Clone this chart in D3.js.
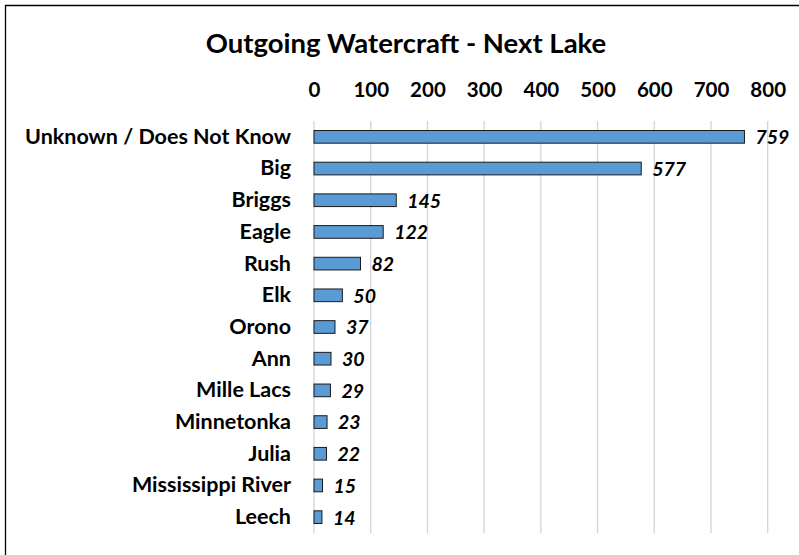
<!DOCTYPE html>
<html><head><meta charset="utf-8">
<script src="https://cdn.jsdelivr.net/npm/d3@7"></script>
<style>
html,body{margin:0;padding:0;background:#fff;overflow:hidden}
text{font-family:Lato,"Open Sans",sans-serif;fill:#000}
</style></head>
<body><svg id="c" width="799" height="555"></svg>
<script>
const categories = ["Unknown / Does Not Know","Big","Briggs","Eagle","Rush","Elk","Orono","Ann","Mille Lacs","Minnetonka","Julia","Mississippi River","Leech"];
const values = [759,577,145,122,82,50,37,30,29,23,22,15,14];
const ticks = [0,100,200,300,400,500,600,700,800];
const title = "Outgoing Watercraft - Next Lake";

const svg = d3.select("#c");
svg.append("path").attr("d","M5.5,560V5.5H810")
  .attr("fill","none").attr("stroke","#000").attr("stroke-width",1.3);

const x = d3.scaleLinear().domain([0,800]).range([314,767.7]);
const y = d3.scaleBand().domain(categories).range([121,533]).paddingInner(0.6).paddingOuter(0.3);

svg.append("text").attr("x",406).attr("y",53).attr("text-anchor","middle")
  .style("font-size","27.5px").style("font-weight","bold").text(title);

// gridlines
svg.append("g").selectAll("line").data(ticks).join("line")
  .attr("x1",d=>x(d)).attr("x2",d=>x(d)).attr("y1",121).attr("y2",533)
  .attr("stroke","#d4d4d4").attr("stroke-width",1.3);

// top axis labels
const ax = svg.append("g").attr("transform","translate(0,97)")
  .call(d3.axisTop(x).tickValues(ticks).tickSize(0).tickPadding(0));
ax.select(".domain").remove();
ax.selectAll("text").style("font-size","20.5px").style("font-weight","bold")
  .attr("font-family",null).attr("dy",0).attr("y",0);

// category labels
const ay = svg.append("g").attr("transform","translate(291,0)")
  .call(d3.axisLeft(y).tickSize(0).tickPadding(0));
ay.select(".domain").remove();
ay.selectAll("text").style("font-size","21.5px").style("font-weight","bold").attr("font-family",null);

// bars
svg.append("g").selectAll("rect").data(values).join("rect")
  .attr("x",x(0)).attr("y",(d,i)=>y(categories[i]))
  .attr("width",d=>x(d)-x(0)).attr("height",y.bandwidth())
  .attr("fill","#5b9bd5").attr("stroke","#1a1a1a").attr("stroke-width",1);

// value labels
svg.append("g").selectAll("text").data(values).join("text")
  .attr("x",d=>x(d)+11).attr("y",(d,i)=>y(categories[i])+y.bandwidth()/2)
  .attr("dy","0.38em")
  .style("font-size","19.5px").style("font-weight","bold").style("font-style","italic")
  .text(d=>d);
</script></body></html>
